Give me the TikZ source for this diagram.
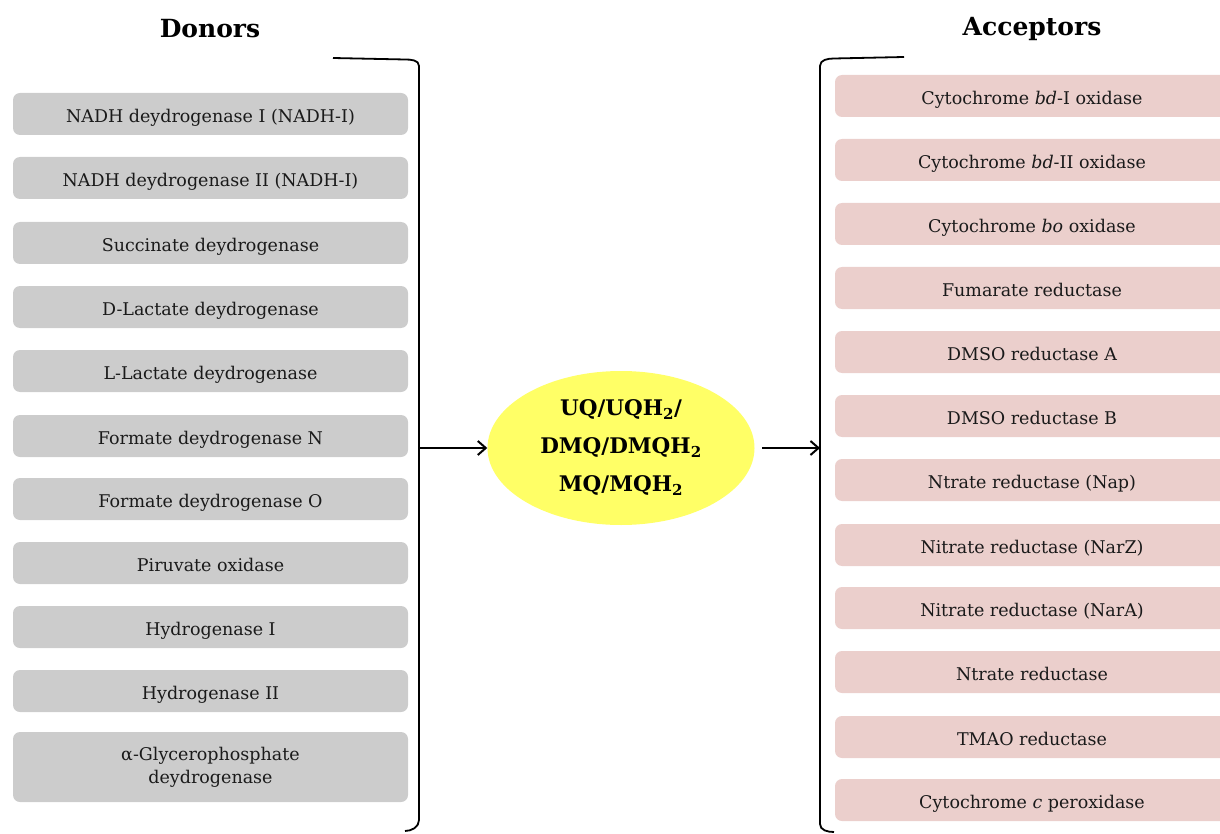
\documentclass[tikz,border=0pt]{standalone}
\usepackage{fontspec}
\setmainfont{DejaVu Serif}
\usetikzlibrary{arrows.meta,shapes.geometric}
\definecolor{donorgray}{HTML}{CCCCCC}
\definecolor{acceptorpink}{HTML}{EBCFCC}
\definecolor{quinoneyellow}{HTML}{FFFF66}
\definecolor{inktext}{HTML}{1A1A1A}
\begin{document}
\begin{tikzpicture}[x=1pt,y=-1pt,
  entry/.style={rounded corners=7pt, minimum height=42pt, inner sep=0pt,
    text=inktext, align=center, font=\fontsize{17.5}{23}\selectfont,
    text height=16.5pt, text depth=0pt},
  donorbox/.style={entry, fill=donorgray, minimum width=395pt},
  acceptorbox/.style={entry, fill=acceptorpink, minimum width=394pt},
  heading/.style={font=\fontsize{25}{30}\selectfont\bfseries, text=black},
  bracketline/.style={line width=1.8pt, black},
  flow/.style={line width=2pt, -{Straight Barb[length=8pt,width=14pt,line width=2pt]}}]
\useasboundingbox (0,0) rectangle (1220,834);
\clip (0,0) rectangle (1220,834);

% column headings
\node[heading] (donors) at (210,29) {Donors};
\node[heading] (acceptors) at (1032,29) {Acceptors};

% electron donors
\node[donorbox] (d1) at (210.5,114) {NADH deydrogenase I (NADH-I)};
\node[donorbox] (d2) at (210.5,178) {NADH deydrogenase II (NADH-I)};
\node[donorbox] (d3) at (210.5,243) {Succinate deydrogenase};
\node[donorbox] (d4) at (210.5,307) {D-Lactate deydrogenase};
\node[donorbox] (d5) at (210.5,371) {L-Lactate deydrogenase};
\node[donorbox] (d6) at (210.5,436) {Formate deydrogenase N};
\node[donorbox] (d7) at (210.5,499) {Formate deydrogenase O};
\node[donorbox] (d8) at (210.5,563) {Piruvate oxidase};
\node[donorbox] (d9) at (210.5,627) {Hydrogenase I};
\node[donorbox] (d10) at (210.5,691) {Hydrogenase II};
\node[donorbox, minimum height=70pt, text height=, text depth=] (d11) at (210.5,767)
  {α-Glycerophosphate\\deydrogenase};

% electron acceptors
\node[acceptorbox] (a1) at (1032,96) {Cytochrome \textit{bd}-I oxidase};
\node[acceptorbox] (a2) at (1032,160) {Cytochrome \textit{bd}-II oxidase};
\node[acceptorbox] (a3) at (1032,224) {Cytochrome \textit{bo} oxidase};
\node[acceptorbox] (a4) at (1032,288) {Fumarate reductase};
\node[acceptorbox] (a5) at (1032,352) {DMSO reductase A};
\node[acceptorbox] (a6) at (1032,416) {DMSO reductase B};
\node[acceptorbox] (a7) at (1032,480) {Ntrate reductase (Nap)};
\node[acceptorbox] (a8) at (1032,545) {Nitrate reductase (NarZ)};
\node[acceptorbox] (a9) at (1032,608) {Nitrate reductase (NarA)};
\node[acceptorbox] (a10) at (1032,672) {Ntrate reductase};
\node[acceptorbox] (a11) at (1032,737) {TMAO reductase};
\node[acceptorbox] (a12) at (1032,800) {Cytochrome \textit{c} peroxidase};

% quinone pool
\node[ellipse, fill=quinoneyellow, minimum width=267pt, minimum height=154pt,
  inner sep=0pt, align=center, text=black,
  font=\fontsize{21.5}{38}\selectfont\bfseries] (pool) at (621,448)
  {UQ/UQH\textsubscript{2}/\\DMQ/DMQH\textsubscript{2}\\MQ/MQH\textsubscript{2}};

% brackets grouping each column
\draw[bracketline] (333,58) -- (405,59.5) to[out=0,in=90] (419,66) -- (419,820)
  to[out=-90,in=0] (405,831);
\draw[bracketline] (904,57) -- (834,58.5) to[out=180,in=90] (820,66) -- (820,824)
  to[out=-90,in=180] (834,832);

% connection points on the brackets
\coordinate (leftjoin) at (419,448);
\coordinate (rightjoin) at (820,448);
\coordinate (poolout) at (762,448);

\draw[flow] (leftjoin) -- (pool.west);
\draw[flow] (poolout) -- (rightjoin);
\end{tikzpicture}
\end{document}
